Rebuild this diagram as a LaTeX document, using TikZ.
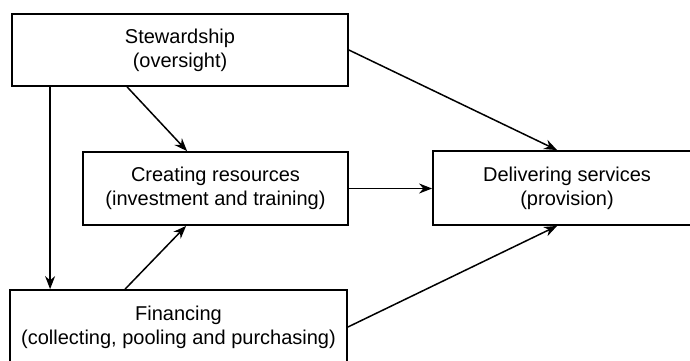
\documentclass[tikz,border=0pt]{standalone}
\usepackage{fontspec}
\setmainfont{Liberation Sans}
\usetikzlibrary{arrows.meta}
\begin{document}
\begin{tikzpicture}[x=1pt,y=-1pt,
  box/.style={draw=black, line width=1.8pt, inner sep=0pt, align=center,
    font=\fontsize{20}{24}\selectfont},
  arr/.style={draw=black, line width=1.5pt,
    -{Stealth[length=13pt,width=10pt]}}]
\useasboundingbox (0,0) rectangle (690,360);
\fill[white] (0,0) rectangle (690,360);

% the four functions
\node[box, minimum width=336pt, minimum height=72pt] (stew) at (180,50)
  {Stewardship\\(oversight)};
\node[box, minimum width=265pt, minimum height=73pt] (creat) at (215.5,188.5)
  {Creating resources\\(investment and training)};
\node[box, minimum width=268pt, minimum height=74pt] (deliv) at (567,188)
  {Delivering services\\(provision)};
\node[box, minimum width=337pt, minimum height=74pt] (fin) at (178.5,327)
  {Financing\\(collecting, pooling and purchasing)};

% relations between them
\draw[arr] ([xshift=39pt]stew.south west) -- ([xshift=39pt]stew.south west |- fin.north);
\draw[arr] ([xshift=116pt]stew.south west) -- ([xshift=105pt]creat.north west);
\draw[arr] ([xshift=116pt]fin.north west) -- ([xshift=104pt]creat.south west);
\draw[arr] (creat.east) -- (creat.east -| deliv.west);
\draw[arr] (stew.east) -- ([xshift=125pt]deliv.north west);
\draw[arr] (fin.east) -- ([xshift=125pt]deliv.south west);
\end{tikzpicture}
\end{document}
